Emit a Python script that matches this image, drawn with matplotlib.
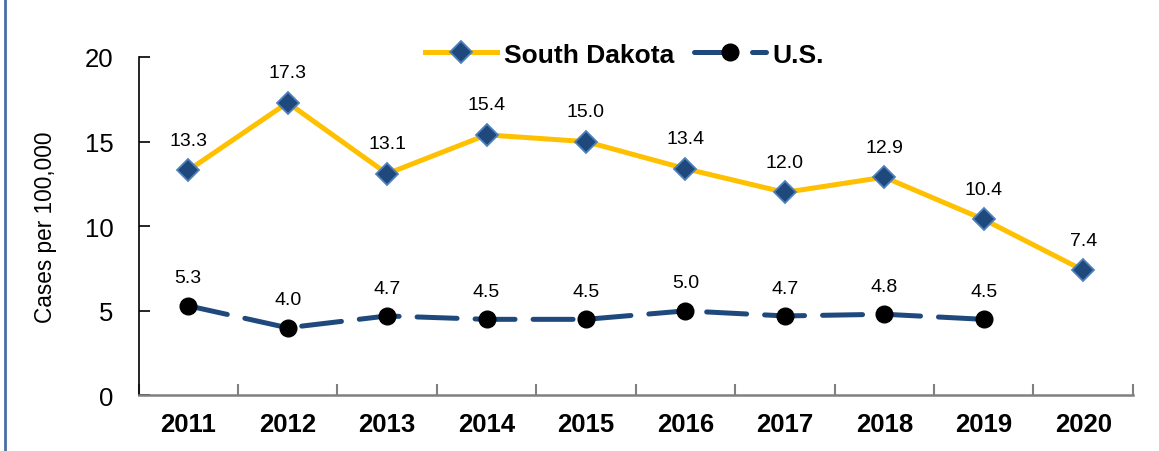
import matplotlib.pyplot as plt
import numpy as np
from matplotlib.lines import Line2D

plt.rcParams['font.family'] = ['Liberation Sans', 'DejaVu Sans']

years = ["2011", "2012", "2013", "2014", "2015", "2016", "2017", "2018", "2019", "2020"]
sd_rate = [13.3, 17.3, 13.1, 15.4, 15.0, 13.4, 12.0, 12.9, 10.4, 7.4]
us_rate = [5.3, 4.0, 4.7, 4.5, 4.5, 5.0, 4.7, 4.8, 4.5]

fig = plt.figure(figsize=(11.59, 4.52), dpi=100)
ax = fig.add_axes([0.1195, 0.1228, 0.858, 0.7489])

x_sd = np.arange(len(sd_rate))
x_us = np.arange(len(us_rate))

ax.plot(x_sd, sd_rate, color="#FFC000", lw=3.6, marker="D", ms=11.5,
        mfc="#1F497D", mec="#4F81BD", mew=1.3, label="South Dakota", zorder=3)
ax.plot(x_us, us_rate, color="#1F497D", lw=3.6, dashes=(8, 3.6),
        dash_capstyle="round", marker="o", ms=12, mfc="black", mec="black",
        label="U.S.", zorder=3)

# value labels above each point
for i, v in enumerate(sd_rate):
    ax.annotate(f"{v:.1f}", (i, v), xytext=(0, 15.5), textcoords="offset points",
                ha="center", va="bottom", fontsize=14)
for i, v in enumerate(us_rate):
    ax.annotate(f"{v:.1f}", (i, v), xytext=(0, 14), textcoords="offset points",
                ha="center", va="bottom", fontsize=14)

ax.set_xlim(-0.5, len(years) - 0.5)
ax.set_ylim(0, 20)
ax.set_yticks([0, 5, 10, 15, 20])
ax.set_xticks(x_sd)
ax.set_xticklabels(years, fontsize=18.5, fontweight="bold")
ax.set_xticks(np.arange(-0.5, len(years)), minor=True)
ax.tick_params(axis="x", which="major", length=0, pad=12)
ax.tick_params(axis="x", which="minor", direction="in", length=8,
               color="#808080", width=1.5)
ax.tick_params(axis="y", direction="in", length=8, width=1.2, labelsize=18.5, pad=18)
ax.set_ylabel("Cases per 100,000", fontsize=16.3, labelpad=20)

for s in ["top", "right"]:
    ax.spines[s].set_visible(False)
ax.spines["left"].set_linewidth(1.2)
ax.spines["bottom"].set_color("#808080")
ax.spines["bottom"].set_linewidth(1.8)

leg = ax.legend(loc="center", bbox_to_anchor=(0.489, 1.007), ncol=2,
                frameon=False, prop={"size": 19, "weight": "bold"},
                handlelength=2.73, columnspacing=0.76, handletextpad=0.25)

# blue frame edge on the left
fig.add_artist(Line2D([0.0047, 0.0047], [0, 1], transform=fig.transFigure,
                      color="#4A6FA5", lw=2))

fig.savefig("out.png", dpi=100)
